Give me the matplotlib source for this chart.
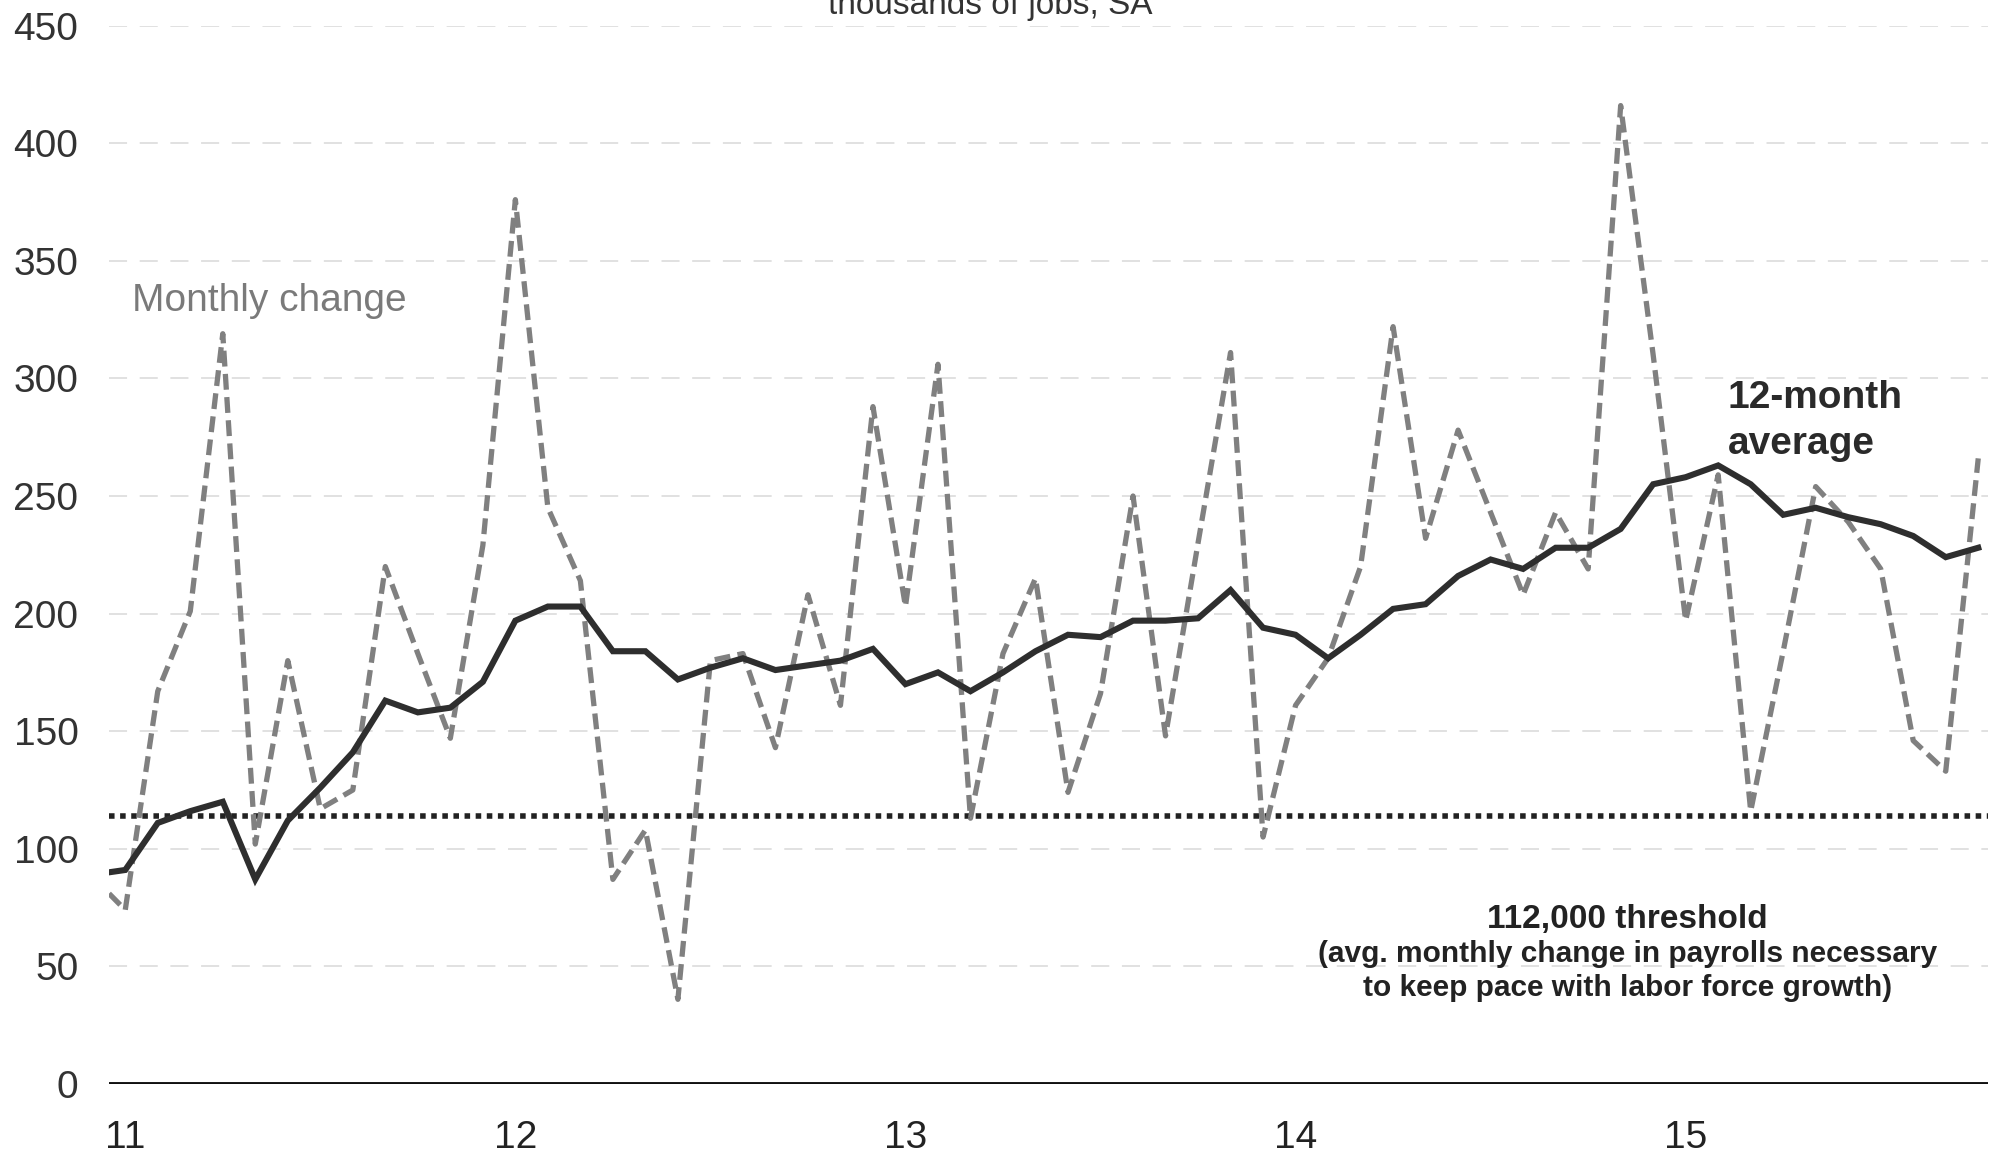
import matplotlib
matplotlib.use("Agg")
import matplotlib.pyplot as plt

# ---- data (thousands of jobs, SA) ----
# month offsets from Jan 2011 (Dec 2010 ... Oct 2015)
month_index = list(range(-1, 58))

monthly_change = [88, 74, 167, 201, 319, 102, 180, 117, 125, 220, 183, 147,
                  229, 376, 245, 214, 87, 108, 36, 180, 183, 143, 208, 161,
                  288, 203, 306, 113, 183, 215, 124, 166, 250, 148, 230, 311,
                  105, 161, 181, 220, 322, 232, 278, 243, 208, 243, 219, 416,
                  310, 197, 259, 116, 184, 254, 239, 219, 146, 133, 266]

avg_12m = [89, 91, 111, 116, 120, 87, 112, 126, 141, 163, 158, 160,
           171, 197, 203, 203, 184, 184, 172, 177, 181, 176, 178, 180,
           185, 170, 175, 167, 175, 184, 191, 190, 197, 197, 198, 210,
           194, 191, 181, 191, 202, 204, 216, 223, 219, 228, 228, 236,
           255, 258, 263, 255, 242, 245, 241, 238, 233, 224, 228]

threshold = 114

year_tick_months = [0, 12, 24, 36, 48]
year_labels = ["11", "12", "13", "14", "15"]
y_ticks = [0, 50, 100, 150, 200, 250, 300, 350, 400, 450]

# ---- figure ----
W, H = 2005, 1153
fig = plt.figure(figsize=(W / 100, H / 100), dpi=100)
plt.rcParams['font.family'] = ['Liberation Sans', 'DejaVu Sans']

left, right = 109 / W, 1988 / W
bottom, top = (H - 1084) / H, (H - 25.6) / H
ax = fig.add_axes([left, bottom, right - left, top - bottom])

ax.set_xlim(-0.5, 57.3)
ax.set_ylim(0, 450)

for s in ax.spines.values():
    s.set_visible(False)

# gridlines
for v in y_ticks[1:]:
    ax.axhline(v, color='#dedede', lw=1.3, ls=(0, (10, 7)), zorder=0)

# zero line
ax.axhline(0, color='#111111', lw=2.8, zorder=2)

# threshold dotted line
ax.axhline(threshold, color='#222222', lw=4.0, ls=(0, (1, 1)),
           dash_capstyle='butt', zorder=3)

# monthly change (dashed gray)
ax.plot(month_index, monthly_change, color='#808080', lw=3.8,
        ls=(0, (3.0, 1.4)), zorder=4)

# 12-month average (solid dark)
ax.plot(month_index, avg_12m, color='#2e2e2e', lw=4.4, zorder=5,
        solid_joinstyle='miter')

ax.set_yticks(y_ticks)
ax.set_yticklabels([str(v) for v in y_ticks], fontsize=28, color='#333333')
ax.set_xticks(year_tick_months)
ax.set_xticklabels(year_labels, fontsize=28, color='#222222')
ax.tick_params(axis='y', length=0, pad=22)
ax.tick_params(axis='x', length=0, pad=26)

# annotations
fig.text(990 / W, 1 - 14 / H, "thousands of jobs, SA", ha='center',
         va='baseline', fontsize=24, color='#333333')

ax.text(0.2, 333, "Monthly change", fontsize=28, color='#7a7a7a',
        ha='left', va='center')

ax.text(49.3, 282, "12-month\naverage", fontsize=28, fontweight='bold',
        color='#2a2a2a', ha='left', va='center', linespacing=1.35)

ax.text(46.2, 70, "112,000 threshold", fontsize=24, fontweight='bold',
        color='#222222', ha='center', va='center')
ax.text(46.2, 48, "(avg. monthly change in payrolls necessary\nto keep pace with labor force growth)",
        fontsize=21.5, fontweight='bold', color='#222222', ha='center',
        va='center', linespacing=1.3)

fig.savefig("out.png", dpi=100, facecolor='white')
